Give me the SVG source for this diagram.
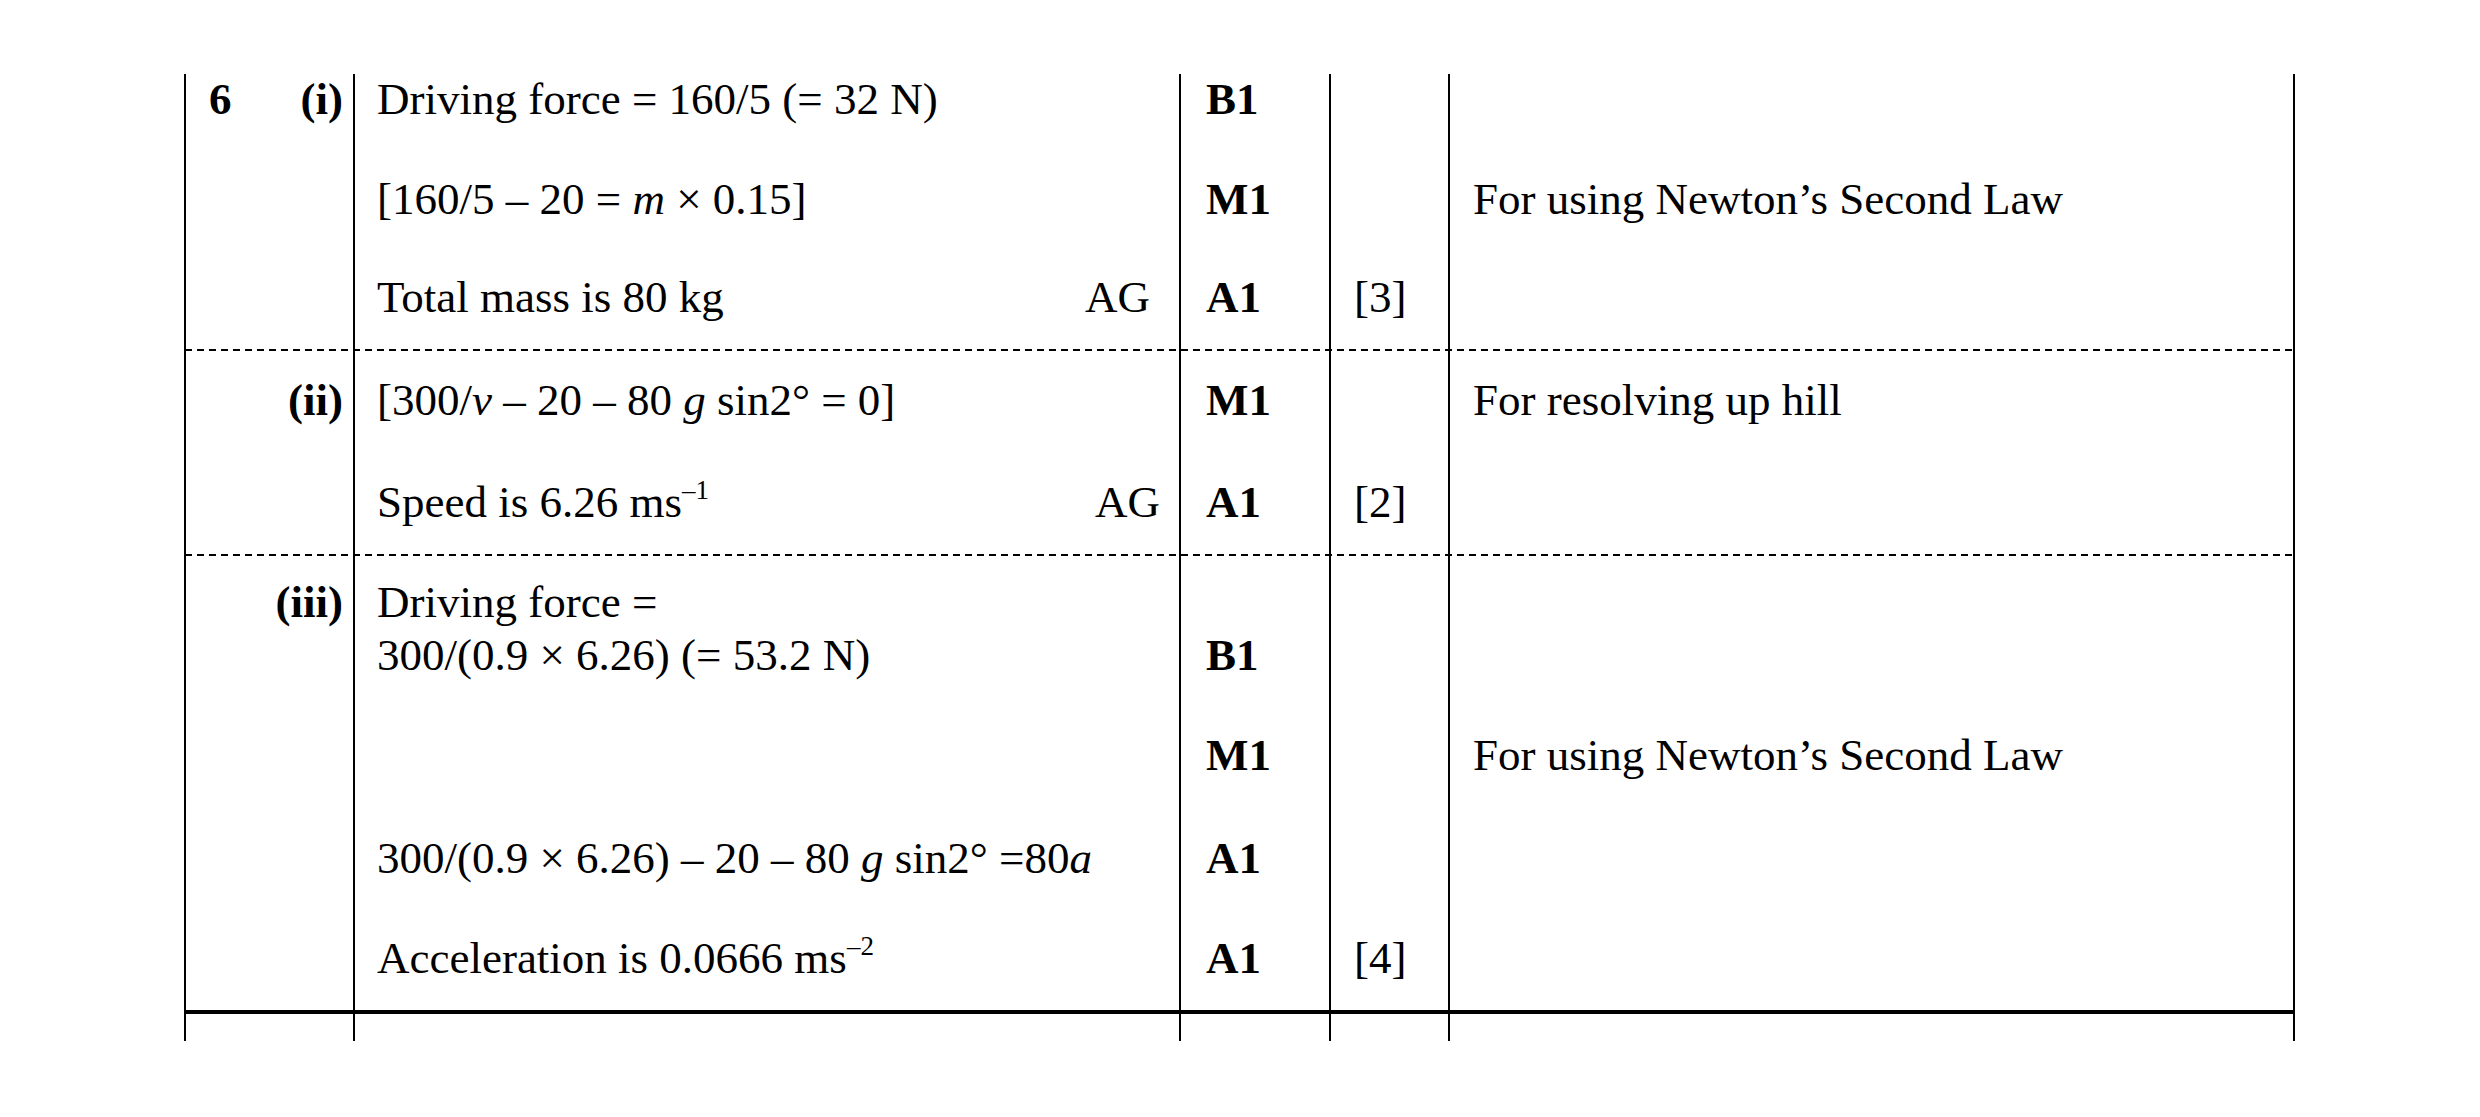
<svg xmlns="http://www.w3.org/2000/svg" width="2480" height="1117" viewBox="0 0 2480 1117">
<style>
text{font-family:"Liberation Serif","Times New Roman",serif;font-size:45px;fill:#000}
.b{font-weight:bold}
.r{text-anchor:end}
.v{stroke:#000;stroke-width:2}
.d{stroke:#000;stroke-width:2;stroke-dasharray:7,5}
</style>
<rect width="2480" height="1117" fill="#fff"/>
<g id="grid">
<line class="v" x1="185" y1="74" x2="185" y2="1041"/>
<line class="v" x1="354" y1="74" x2="354" y2="1041"/>
<line class="v" x1="1180" y1="74" x2="1180" y2="1041"/>
<line class="v" x1="1330" y1="74" x2="1330" y2="1041"/>
<line class="v" x1="1449" y1="74" x2="1449" y2="1041"/>
<line class="v" x1="2294" y1="74" x2="2294" y2="1041"/>
<line class="d" x1="185" y1="350" x2="2294" y2="350"/>
<line class="d" x1="185" y1="555" x2="2294" y2="555"/>
<line stroke="#000" stroke-width="4" x1="185" y1="1012" x2="2294" y2="1012"/>
</g>
<g id="part-i">
<text class="b" x="209" y="114">6</text>
<text class="b r" x="343" y="114">(i)</text>
<text x="377" y="114">Driving force = 160/5  (= 32 N)</text>
<text class="b" x="1206" y="114">B1</text>
<text x="377" y="214">[160/5 – 20 = <tspan font-style="italic">m</tspan> × 0.15]</text>
<text class="b" x="1206" y="214">M1</text>
<text x="1473" y="214">For using Newton’s Second Law</text>
<text x="377" y="312">Total mass is 80 kg</text>
<text class="r" x="1150" y="312">AG</text>
<text class="b" x="1206" y="312">A1</text>
<text x="1354" y="312">[3]</text>
</g>
<g id="part-ii">
<text class="b r" x="343" y="415">(ii)</text>
<text x="377" y="415">[300/<tspan font-style="italic">v</tspan> – 20 – 80 <tspan font-style="italic">g</tspan> sin2° = 0]</text>
<text class="b" x="1206" y="415">M1</text>
<text x="1473" y="415">For resolving up hill</text>
<text x="377" y="517">Speed is 6.26 ms<tspan font-size="27" dy="-18">–1</tspan></text>
<text class="r" x="1160" y="517">AG</text>
<text class="b" x="1206" y="517">A1</text>
<text x="1354" y="517">[2]</text>
</g>
<g id="part-iii">
<text class="b r" x="343" y="617">(iii)</text>
<text x="377" y="617">Driving force =</text>
<text x="377" y="670">300/(0.9 × 6.26) (= 53.2 N)</text>
<text class="b" x="1206" y="670">B1</text>
<text class="b" x="1206" y="770">M1</text>
<text x="1473" y="770">For using Newton’s Second Law</text>
<text x="377" y="873">300/(0.9 × 6.26) – 20 – 80 <tspan font-style="italic">g</tspan> sin2° =80<tspan font-style="italic">a</tspan></text>
<text class="b" x="1206" y="873">A1</text>
<text x="377" y="973">Acceleration is 0.0666 ms<tspan font-size="27" dy="-18">–2</tspan></text>
<text class="b" x="1206" y="973">A1</text>
<text x="1354" y="973">[4]</text>
</g>
</svg>
